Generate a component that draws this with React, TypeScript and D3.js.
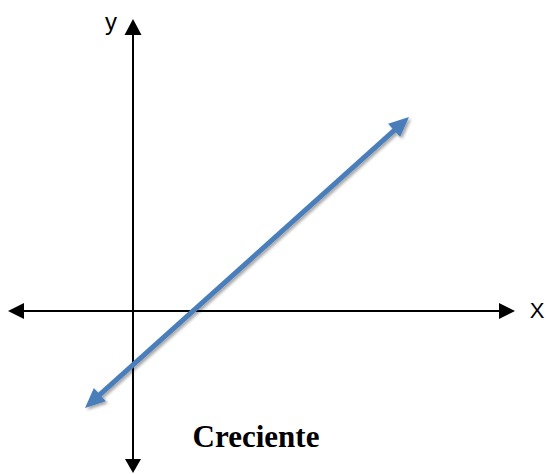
import React from "react";
import * as d3 from "d3";

const axisXRange = [-2.5, 7.64];
const axisYRange = [-3.24, 5.84];
const lineX = [-0.96, 5.52];
const lineY = [-1.94, 3.88];
const labels = { x: "X", y: "y", title: "Creciente" };

const W = 546;
const H = 474;

function arrowHead(tipX: number, tipY: number, fromX: number, fromY: number, len: number, half: number) {
  const ang = Math.atan2(tipY - fromY, tipX - fromX);
  const bx = tipX - len * Math.cos(ang);
  const by = tipY - len * Math.sin(ang);
  const px = -Math.sin(ang) * half;
  const py = Math.cos(ang) * half;
  return `M${tipX},${tipY}L${bx + px},${by + py}L${bx - px},${by - py}Z`;
}

export default function App() {
  const x = d3.scaleLinear().domain([0, 1]).range([133, 183]);
  const y = d3.scaleLinear().domain([0, 1]).range([311, 261]);

  const x0 = x(axisXRange[0]);
  const x1 = x(axisXRange[1]);
  const y0 = y(axisYRange[0]);
  const y1 = y(axisYRange[1]);
  const ox = x(0);
  const oy = y(0);

  const lx0 = x(lineX[0]);
  const ly0 = y(lineY[0]);
  const lx1 = x(lineX[1]);
  const ly1 = y(lineY[1]);
  const ang = Math.atan2(ly1 - ly0, lx1 - lx0);
  const headLen = 20;
  const sx0 = lx0 + Math.cos(ang) * (headLen - 2);
  const sy0 = ly0 + Math.sin(ang) * (headLen - 2);
  const sx1 = lx1 - Math.cos(ang) * (headLen - 2);
  const sy1 = ly1 - Math.sin(ang) * (headLen - 2);
  const lineGen = d3.line();

  const blue = "#4a7ebb";

  return (
    <svg width={W} height={H} style={{ position: "absolute", left: 0, top: 0, background: "#fff" }}>
      <defs>
        <filter id="sh" x="-20%" y="-20%" width="140%" height="140%">
          <feGaussianBlur in="SourceAlpha" stdDeviation="1.5" />
          <feOffset dx="1.5" dy="2" result="b" />
          <feComponentTransfer>
            <feFuncA type="linear" slope="0.35" />
          </feComponentTransfer>
          <feMerge>
            <feMergeNode />
            <feMergeNode in="SourceGraphic" />
          </feMerge>
        </filter>
      </defs>
      {/* x axis */}
      <line x1={x0 + 14} y1={oy} x2={x1 - 14} y2={oy} stroke="#000" strokeWidth={2} />
      <path d={arrowHead(x0, oy, x0 + 10, oy, 16, 8)} fill="#000" />
      <path d={arrowHead(x1, oy, x1 - 10, oy, 16, 8)} fill="#000" />
      {/* y axis */}
      <line x1={ox} y1={y1 + 14} x2={ox} y2={y0 - 12} stroke="#000" strokeWidth={2} />
      <path d={arrowHead(ox, y1, ox, y1 + 10, 16, 8.5)} fill="#000" />
      <path d={arrowHead(ox, y0, ox, y0 - 10, 14, 8)} fill="#000" />
      {/* blue line */}
      <g filter="url(#sh)">
        <path
          d={lineGen([[sx0, sy0], [sx1, sy1]]) || ""}
          stroke={blue}
          strokeWidth={5}
          fill="none"
        />
        <path d={arrowHead(lx1, ly1, lx0, ly0, headLen, 9)} fill={blue} />
        <path d={arrowHead(lx0, ly0, lx1, ly1, headLen, 9)} fill={blue} />
      </g>
      <text x={111} y={30} fontFamily="Liberation Sans, Arial, sans-serif" fontSize={24} textAnchor="middle">
        {labels.y}
      </text>
      <text x={537} y={318} fontFamily="Liberation Sans, Arial, sans-serif" fontSize={22} textAnchor="middle">
        {labels.x}
      </text>
      <text x={256} y={447} fontFamily="Liberation Serif, Times New Roman, serif" fontWeight="bold" fontSize={31} textAnchor="middle">
        {labels.title}
      </text>
    </svg>
  );
}
